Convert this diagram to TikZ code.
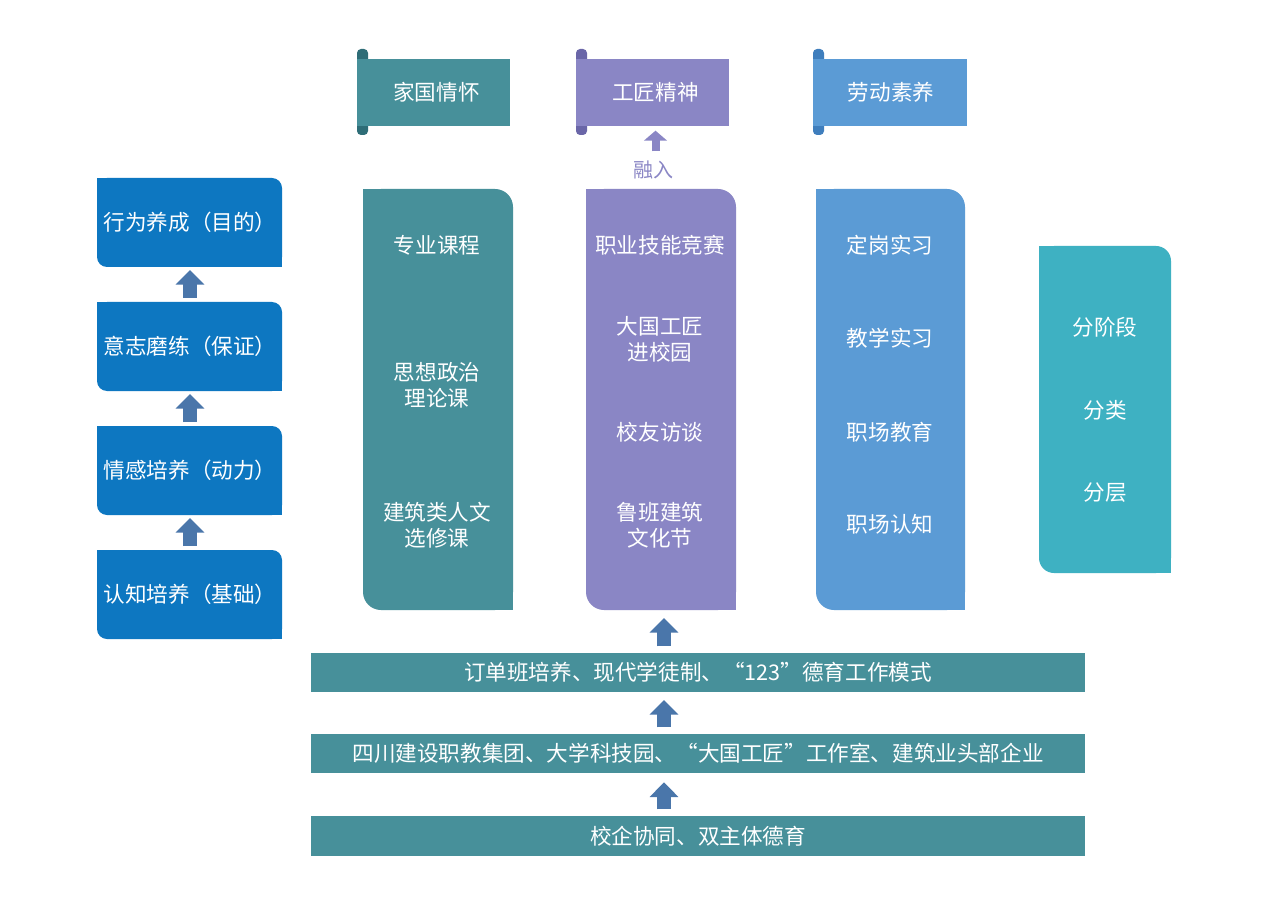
\documentclass[tikz,border=0pt]{standalone}
\usepackage{fontspec}
\setmainfont{Noto Sans CJK SC}
\usetikzlibrary{arrows.meta,calc}
\definecolor{cteal}{HTML}{47909A}
\definecolor{ctealdk}{HTML}{2E6D77}
\definecolor{cpurp}{HTML}{8A86C5}
\definecolor{cpurpdk}{HTML}{6A66A8}
\definecolor{cblue}{HTML}{5B9BD5}
\definecolor{cbluedk}{HTML}{3F7EBD}
\definecolor{ccyan}{HTML}{3EB1C2}
\definecolor{cleft}{HTML}{0D77C1}
\definecolor{carrow}{HTML}{4A76AA}
\newcommand\myrbox[6]{%
  \fill[#1,rounded corners=#6*0.75pt] (#2,#3) rectangle (#4,#5);
  \fill[#1] (#2,#3) rectangle ++(#6,#6);
  \fill[#1] (#4,#5) rectangle ++(-#6,-#6);}
\newcommand\mybanner[4]{%
  \fill[#1,rounded corners=3pt] (#3,49) rectangle (#3+11,135);
  \fill[#2] (#3,59) rectangle (#4,126);}
\tikzset{
  box/.style 2 args={minimum width=#1*0.75pt, minimum height=#2*0.75pt, inner sep=0pt, outer sep=0pt},
  txt/.style={text=white, font=\fontsize{16.2}{19.5}\selectfont, align=center, inner sep=0pt},
  uparrow/.style={draw=carrow, line width=10.5pt, -{Triangle[width=21pt,length=11pt]}},
  smallarrow/.style={draw=cpurp, line width=6pt, -{Triangle[width=17pt,length=7.5pt]}},
}
\begin{document}
\begin{tikzpicture}[x=0.75pt,y=-0.75pt]
\useasboundingbox (0,0) rectangle (1269,905);
\fill[white] (0,0) rectangle (1269,905);

% banners
\mybanner{ctealdk}{cteal}{357}{510}
\node[txt,box={147}{67}] (jg) at (436.5,92.5) {家国情怀};
\mybanner{cpurpdk}{cpurp}{576}{729}
\node[txt,box={147}{67}] (gj) at (655.5,92.5) {工匠精神};
\mybanner{cbluedk}{cblue}{813}{967}
\node[txt,box={148}{67}] (ld) at (891,92.5) {劳动素养};

\node[text=cpurp, font=\fontsize{15}{18}\selectfont, inner sep=0pt] (rr) at (653,170) {融入};
\draw[smallarrow, shorten <=7pt, shorten >=3.5pt] (rr.north -| gj.south) -- (gj.south);

% left boxes
\myrbox{cleft}{97}{178}{282}{267}{10}
\node[txt,box={185}{89}] (l1) at (190,222.5) {行为养成（目的）};
\myrbox{cleft}{97}{302}{282}{391}{10}
\node[txt,box={185}{89}] (l2) at (190,346.5) {意志磨练（保证）};
\myrbox{cleft}{97}{426}{282}{515}{10}
\node[txt,box={185}{89}] (l3) at (190,470.5) {情感培养（动力）};
\myrbox{cleft}{97}{550}{282}{639}{10}
\node[txt,box={185}{89}] (l4) at (190,594.5) {认知培养（基础）};
\draw[uparrow, shorten <=3pt, shorten >=2.25pt] (l2.north) -- (l1.south);
\draw[uparrow, shorten <=3pt, shorten >=2.25pt] (l3.north) -- (l2.south);
\draw[uparrow, shorten <=3pt, shorten >=2.25pt] (l4.north) -- (l3.south);

% columns
\myrbox{cteal}{363}{189}{513}{610}{18}
\node[box={150}{421}] (colT) at (438,399.5) {};
\node[txt] (t1) at (437,245) {专业课程};
\node[txt] (t2) at (437,385) {思想政治\\理论课};
\node[txt] (t3) at (437,525) {建筑类人文\\选修课};

\myrbox{cpurp}{586}{189}{736}{610}{18}
\node[box={150}{421}] (colP) at (661,399.5) {};
\node[txt] (p1) at (660,245) {职业技能竞赛};
\node[txt] (p2) at (660,339) {大国工匠\\进校园};
\node[txt] (p3) at (660,432) {校友访谈};
\node[txt] (p4) at (660,525) {鲁班建筑\\文化节};

\myrbox{cblue}{816}{189}{965}{610}{18}
\node[box={149}{421}] (colB) at (890.5,399.5) {};
\node[txt] (s1) at (890,245) {定岗实习};
\node[txt] (s2) at (890,338) {教学实习};
\node[txt] (s3) at (890,432) {职场教育};
\node[txt] (s4) at (890,524) {职场认知};

\myrbox{ccyan}{1039}{246}{1171}{573}{15}
\node[box={132}{327}] (colC) at (1105,409.5) {};
\node[txt] (c1) at (1105,327) {分阶段};
\node[txt] (c2) at (1105,410) {分类};
\node[txt] (c3) at (1105,493) {分层};

% bars
\node[txt,box={774}{39},fill=cteal] (bar1) at (698,672.5) {订单班培养、现代学徒制、“123”德育工作模式};
\node[txt,box={774}{39},fill=cteal] (bar2) at (698,753.5) {四川建设职教集团、大学科技园、“大国工匠”工作室、建筑业头部企业};
\node[txt,box={774}{40},fill=cteal] (bar3) at (698,836) {校企协同、双主体德育};

\draw[uparrow, shorten <=5pt, shorten >=6pt] ([xshift=2.25pt]bar1.north -| colP.south) -- ([xshift=2.25pt]colP.south);
\draw[uparrow, shorten <=5pt, shorten >=6pt] ([xshift=2.25pt]bar2.north -| colP.south) -- ([xshift=2.25pt]bar1.south -| colP.south);
\draw[uparrow, shorten <=5pt, shorten >=7pt] ([xshift=2.25pt]bar3.north -| colP.south) -- ([xshift=2.25pt]bar2.south -| colP.south);
\end{tikzpicture}
\end{document}
